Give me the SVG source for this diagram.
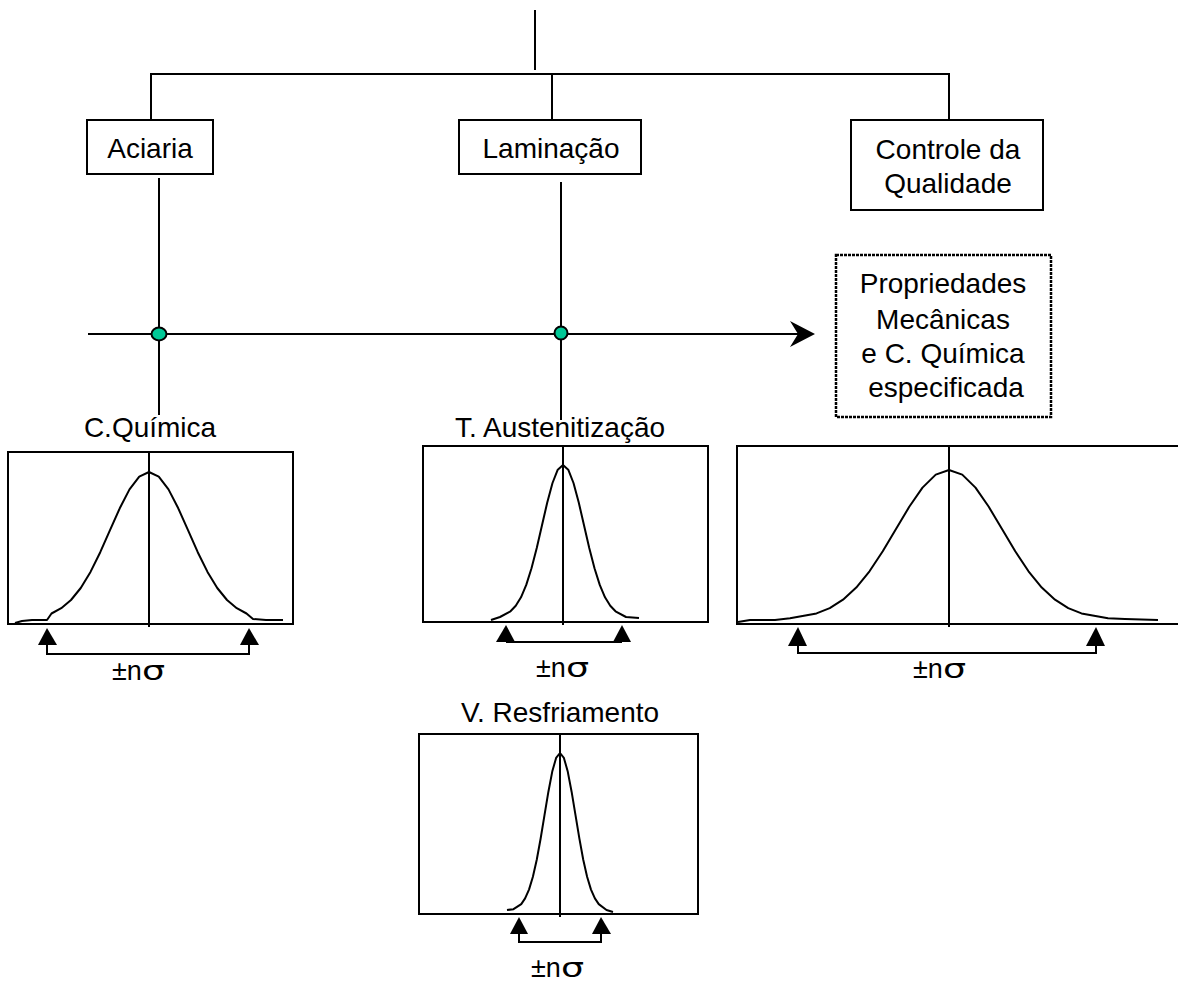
<svg xmlns="http://www.w3.org/2000/svg" width="1178" height="984" viewBox="0 0 1178 984">
<style>
.ln{stroke:#000;stroke-width:2;fill:none}
.box{stroke:#000;stroke-width:2;fill:#fff}
.crv{stroke:#000;stroke-width:2;fill:none;stroke-linejoin:round}
.t{font-family:"Liberation Sans",Arial,sans-serif;font-size:28px;fill:#000;text-anchor:middle}
.pm{font-family:"Liberation Sans",Arial,sans-serif;font-size:27px;fill:#000}
.sg{font-family:"DejaVu Sans",sans-serif;font-size:27px;fill:#000}
.dot{fill:#00c896;stroke:#000;stroke-width:2}
.tri{fill:#000}
</style>
<rect width="1178" height="984" fill="#fff"/>
<g id="connectors">
<line class="ln" x1="535" y1="10" x2="535" y2="70"/>
<polyline class="ln" points="151,120 151,74 949,74 949,120"/>
<line class="ln" x1="552" y1="74" x2="552" y2="120"/>
<line class="ln" x1="159" y1="178" x2="159" y2="415"/>
<line class="ln" x1="561" y1="182" x2="561" y2="420"/>
<line class="ln" x1="88" y1="334" x2="800" y2="334"/>
<path d="M815,334 L790,321 L798,334 L790,347 Z" fill="#000"/>
</g>
<g id="node-aciaria">
<rect class="box" x="87" y="120" width="126" height="54"/>
<text class="t" x="150" y="158">Aciaria</text>
</g>
<g id="node-laminacao">
<rect class="box" x="459" y="120" width="182" height="54"/>
<text class="t" x="551" y="158">Laminação</text>
</g>
<g id="node-controle">
<rect class="box" x="851" y="120" width="192" height="90"/>
<text class="t" x="948" y="159">Controle da</text>
<text class="t" x="948" y="193">Qualidade</text>
</g>
<g id="node-propriedades">
<rect x="836" y="255" width="215" height="162" fill="#fff" stroke="#000" stroke-width="2.5" stroke-dasharray="3 1"/>
<text class="t" x="943" y="293">Propriedades</text>
<text class="t" x="943" y="329">Mecânicas</text>
<text class="t" x="943" y="363">e C. Química</text>
<text class="t" x="946" y="397">especificada</text>
</g>
<g id="junctions">
<ellipse class="dot" cx="159" cy="334" rx="7.5" ry="6.5"/>
<ellipse class="dot" cx="561" cy="333" rx="6.5" ry="6.5"/>
</g>
<g id="chart-quimica">
<text class="t" x="150" y="437">C.Química</text>
<rect class="box" x="8" y="452" width="285" height="172"/>
<line class="ln" x1="149" y1="452" x2="149" y2="627"/>
<polyline class="crv" points="15,623 22,621 32,620 47,620 51.5,613.5 61.25,608.2 71,600 80.75,588 90.5,571.9 100.25,552.2 110,530.2 119.75,508.3 129.5,489.4 139.25,476.6 149,472 158.75,476.6 168.5,489.4 178.25,508.3 188,530.2 197.75,552.2 207.5,571.9 217.25,588 227,600 236.75,608.2 246.5,613.5 253,619 266,620 283,620"/>
<path class="tri" d="M47,628 L38,645 L57,645 Z"/>
<path class="tri" d="M249,628 L240,645 L259,645 Z"/>
<polyline class="ln" points="47,645 47,654 249,654 249,645"/>
<text class="pm" x="112" y="680">±n</text>
<text class="sg" transform="translate(142,680) scale(1.35,1)">σ</text>
</g>
<g id="chart-austenitizacao">
<text class="t" x="560" y="437">T. Austenitização</text>
<rect class="box" x="423" y="446" width="285" height="176"/>
<line class="ln" x1="563" y1="446" x2="563" y2="625"/>
<polyline class="crv" points="491,620 500,617 510.5,611.3 515.75,605.8 521,597.3 526.25,584.9 531.5,568.3 536.75,548 542,525.2 547.25,502.5 552.5,483 557.75,469.7 563,465 568.25,469.7 573.5,483 578.75,502.5 584,525.2 589.25,548 594.5,568.3 599.75,584.9 605,597.3 610.25,605.8 615.5,611.3 626,617 639,618"/>
<path class="tri" d="M506,625 L496,642 L515,642 Z"/>
<path class="tri" d="M622,625 L613,642 L631,642 Z"/>
<line class="ln" x1="506" y1="642" x2="622" y2="642"/>
<text class="pm" x="536" y="677">±n</text>
<text class="sg" transform="translate(566,677) scale(1.35,1)">σ</text>
</g>
<g id="chart-propriedades">
<rect class="box" x="737" y="446" width="445" height="178"/>
<line class="ln" x1="949" y1="446" x2="949" y2="627"/>
<polyline class="crv" points="738,622 750,620 775,620 790,618.3 816.5,613.4 829.75,608.1 843,599.7 856.25,587.6 869.5,571.3 882.75,551.3 896,529 909.25,506.8 922.5,487.6 935.75,474.6 949,470 962.25,474.6 975.5,487.6 988.75,506.8 1002,529 1015.25,551.3 1028.5,571.3 1041.75,587.6 1055,599.7 1068.25,608.1 1081.5,613.4 1108,618.3 1125,619 1158,620"/>
<path class="tri" d="M798,627 L788,646 L807,646 Z"/>
<path class="tri" d="M1096,627 L1086,646 L1105,646 Z"/>
<polyline class="ln" points="798,646 798,653 1096,653 1096,646"/>
<text class="pm" x="913" y="678">±n</text>
<text class="sg" transform="translate(943,678) scale(1.35,1)">σ</text>
</g>
<g id="chart-resfriamento">
<text class="t" x="560" y="722">V. Resfriamento</text>
<rect class="box" x="419" y="734" width="279" height="180"/>
<line class="ln" x1="560" y1="734" x2="560" y2="917"/>
<polyline class="crv" points="507,910 513.5,909.2 521.25,904.1 525.1,898.4 529,889.6 532.9,876.8 536.75,859.7 540.6,838.7 544.5,815.2 548.4,791.7 552.25,771.6 556.1,757.9 560,753 563.9,757.9 567.75,771.6 571.6,791.7 575.5,815.2 579.4,838.7 583.25,859.7 587.1,876.8 591,889.6 594.9,898.4 598.75,904.1 606.5,910 613,912"/>
<path class="tri" d="M519,917 L510,934 L528,934 Z"/>
<path class="tri" d="M601,917 L592,934 L611,934 Z"/>
<polyline class="ln" points="519,934 519,942 601,942 601,934"/>
<text class="pm" x="531" y="977">±n</text>
<text class="sg" transform="translate(561,977) scale(1.35,1)">σ</text>
</g>
</svg>
